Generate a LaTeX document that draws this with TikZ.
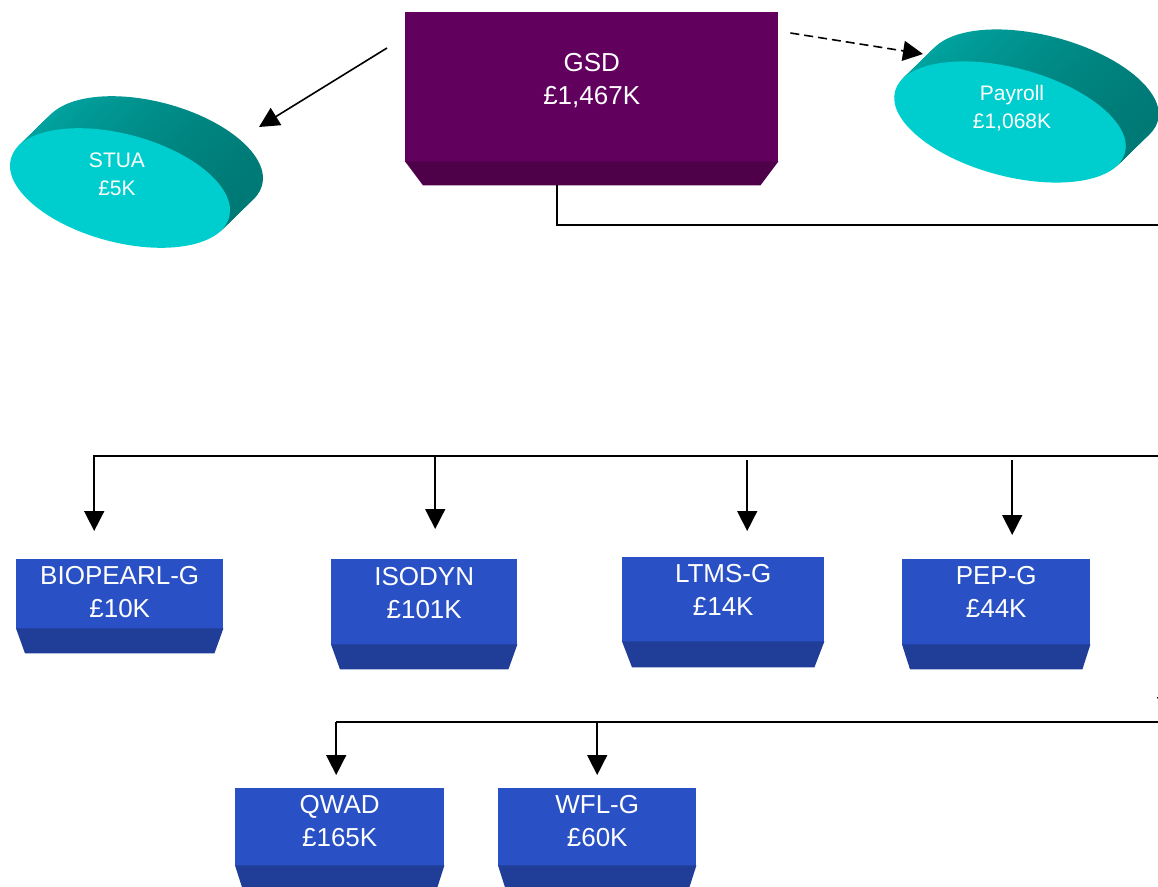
\documentclass[tikz,border=0pt]{standalone}
\usepackage{fontspec}
\setmainfont{Liberation Sans}
\usetikzlibrary{arrows.meta,calc}
\definecolor{gsdPurple}{RGB}{98,0,94}
\definecolor{gsdShade}{RGB}{78,0,72}
\definecolor{unitBlue}{RGB}{41,80,196}
\definecolor{unitShade}{RGB}{32,61,152}
\definecolor{discCyan}{RGB}{0,206,206}
\definecolor{discTealL}{RGB}{0,168,164}
\definecolor{discTealR}{RGB}{0,120,116}
\tikzset{
 conn/.style={line width=1.6pt},
 arr/.style={conn,-{Triangle[length=20pt,width=20pt]}},
 dasharr/.style={arr,dash pattern=on 9pt off 5pt},
 face/.style={rectangle,fill=unitBlue,inner sep=0,anchor=north west},
 boxtext/.style={text=white,font=\fontsize{26}{33}\selectfont,align=center,anchor=north,inner sep=0},
 disctext/.style={text=white,font=\fontsize{21}{28}\selectfont,align=center,inner sep=0},
 discside/.style={left color=discTealL,right color=discTealR}
}
\begin{document}
\begin{tikzpicture}[x=1pt,y=-1pt]
\path[use as bounding box] (0,0) rectangle (1158,886);
\clip (0,0) rectangle (1158,886);
% discs
\foreach \cx/\cy/\rx in {120/188/113, 1010/122/119}{
  \foreach \k in {32,...,1}
    \shade[discside,shift={(\cx+\k*1.03,\cy-\k)},rotate=-15] (0,0) ellipse [x radius=\rx,y radius=54];
  \fill[discCyan,shift={(\cx,\cy)},rotate=-15] (0,0) ellipse [x radius=\rx,y radius=54];
}
\node[disctext] (stua) at (117,174) {STUA\\£5K};
\node[disctext] (payroll) at (1012,108) {Payroll\\£1,068K};
% boxes
\node[face,fill=gsdPurple,minimum width=373,minimum height=150,
  label={[boxtext,yshift=-41pt]north:{GSD\\£1,467K}}] (gsd) at (405,12) {};
\node[face,minimum width=207,minimum height=70,
  label={[boxtext,yshift=-7pt]north:{BIOPEARL-G\\£10K}}] (biopearl) at (16,559) {};
\node[face,minimum width=186,minimum height=86,
  label={[boxtext,yshift=-8pt]north:{ISODYN\\£101K}}] (isodyn) at (331,559) {};
\node[face,minimum width=202,minimum height=85,
  label={[boxtext,yshift=-7pt]north:{LTMS-G\\£14K}}] (ltms) at (622,557) {};
\node[face,minimum width=188,minimum height=86,
  label={[boxtext,yshift=-7pt]north:{PEP-G\\£44K}}] (pep) at (902,559) {};
\node[face,minimum width=209,minimum height=78,
  label={[boxtext,yshift=-7pt]north:{QWAD\\£165K}}] (qwad) at (235,788) {};
\node[face,minimum width=198,minimum height=78,
  label={[boxtext,yshift=-7pt]north:{WFL-G\\£60K}}] (wfl) at (498,788) {};
\foreach \n/\c/\i/\h in {gsd/gsdShade/18/23, biopearl/unitShade/9/24, isodyn/unitShade/9/24,
    ltms/unitShade/10/25, pep/unitShade/8/24, qwad/unitShade/8/24, wfl/unitShade/8/24}
  \fill[\c] ([yshift=1pt]\n.south west) -- ([yshift=1pt]\n.south east)
    -- ($(\n.south east)+(-\i,\h)$) -- ($(\n.south west)+(\i,\h)$) -- cycle;
% connectors
\coordinate (stuaTip) at ($(stua)+(142,-47)$);
\coordinate (payTip) at ($(payroll)+(-89,-54)$);
\draw[arr] ($(gsd.north west)+(-18,36)$) -- (stuaTip);
\draw[dasharr] ($(gsd.north east)+(12,21)$) -- (payTip);
\coordinate (edgeA) at (1160,225);
\draw[conn] ([xshift=-34.5pt,yshift=-23pt]gsd.south) |- (edgeA);
\coordinate (busL) at (93,456);
\coordinate (edgeB) at (1160,456);
\draw[conn] (busL) -- (edgeB);
\foreach \n/\dx/\off/\gap in {biopearl/-25.5/0/28, isodyn/11/0/30, ltms/24/4/26, pep/16/4/24}{
  \path ([xshift=\dx pt]\n.north) coordinate (in\n);
  \draw[arr,shorten <=\off pt,shorten >=\gap pt] (in\n |- busL) -- (in\n);
}
\coordinate (busM) at (336,722);
\coordinate (edgeC) at (1160,722);
\draw[conn] (busM) -- (edgeC);
\foreach \n/\dx in {qwad/-3.5, wfl/0}{
  \path ([xshift=\dx pt]\n.north) coordinate (in\n);
  \draw[arr,shorten >=13pt] (in\n |- busM) -- (in\n);
}
\coordinate (offTop) at (1167,640);
\coordinate (offTip) at (1167,717);
\draw[arr] (offTop) -- (offTip);
\end{tikzpicture}
\end{document}
